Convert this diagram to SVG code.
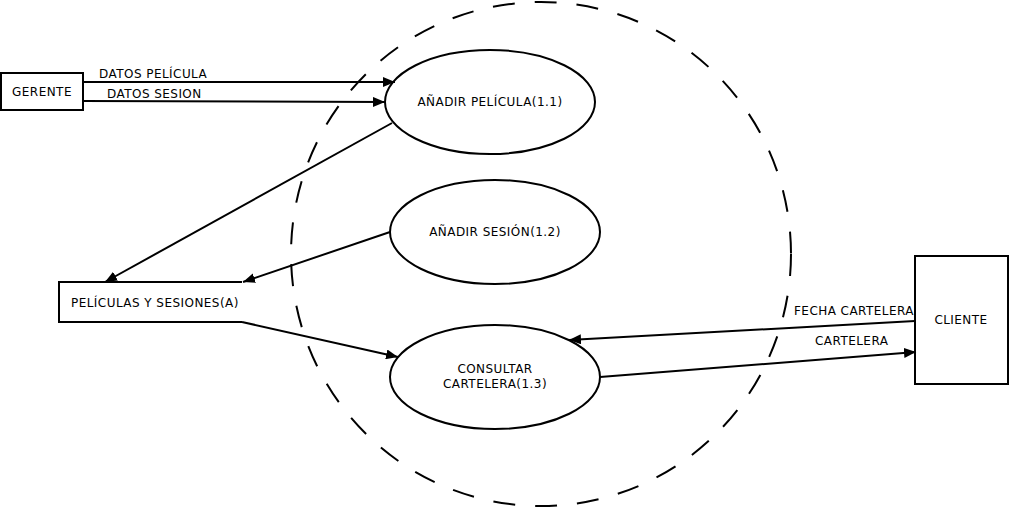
<svg xmlns="http://www.w3.org/2000/svg" width="1011" height="508" viewBox="0 0 1011 508">
<style>
text{font-family:"DejaVu Sans",sans-serif;font-size:12px;letter-spacing:0.45px;fill:#000}
.n{fill:#fff;stroke:#000;stroke-width:2}
.c{fill:none;stroke:#000;stroke-width:2}
.t{text-anchor:middle}
</style>
<defs>
<marker id="a" viewBox="0 0 12 10" refX="12" refY="5" markerWidth="12" markerHeight="10" markerUnits="userSpaceOnUse" orient="auto">
<path d="M0,0L12,5L0,10Z" fill="#000"/>
</marker>
</defs>
<rect width="1011" height="508" fill="#fff"/>
<g id="boundary">
<ellipse cx="541" cy="254" rx="250" ry="252" fill="none" stroke="#000" stroke-width="2" stroke-dasharray="22 20"/>
</g>
<g id="gerente">
<rect class="n" x="1" y="73" width="82" height="37"/>
<text class="t" x="42" y="96">GERENTE</text>
</g>
<g id="cliente">
<rect class="n" x="915" y="256" width="93" height="128"/>
<text class="t" x="961" y="324">CLIENTE</text>
</g>
<g id="store">
<path class="c" d="M242,282H59V322H242"/>
<text x="71" y="307">PELÍCULAS Y SESIONES(A)</text>
</g>
<g id="p11">
<ellipse class="n" cx="490" cy="102" rx="105" ry="52"/>
<text class="t" x="490" y="106">AÑADIR PELÍCULA(1.1)</text>
</g>
<g id="p12">
<ellipse class="n" cx="495" cy="232" rx="105" ry="52"/>
<text class="t" x="495" y="236">AÑADIR SESIÓN(1.2)</text>
</g>
<g id="p13">
<ellipse class="n" cx="495" cy="377" rx="105" ry="52"/>
<text class="t" x="495" y="373">CONSULTAR</text>
<text class="t" x="495" y="388">CARTELERA(1.3)</text>
</g>
<g id="connectors">
<path class="c" d="M83,82H395" marker-end="url(#a)"/>
<path class="c" d="M83,101L385,102" marker-end="url(#a)"/>
<path class="c" d="M392,123L105,282" marker-end="url(#a)"/>
<path class="c" d="M390,232L243,282" marker-end="url(#a)"/>
<path class="c" d="M242,322L398,357" marker-end="url(#a)"/>
<path class="c" d="M915,321L569,340" marker-end="url(#a)"/>
<path class="c" d="M600,377L916,352" marker-end="url(#a)"/>
<text x="99" y="78">DATOS PELÍCULA</text>
<text x="107" y="98">DATOS SESION</text>
<text x="794" y="315">FECHA CARTELERA</text>
<text x="815" y="345">CARTELERA</text>
</g>
</svg>
